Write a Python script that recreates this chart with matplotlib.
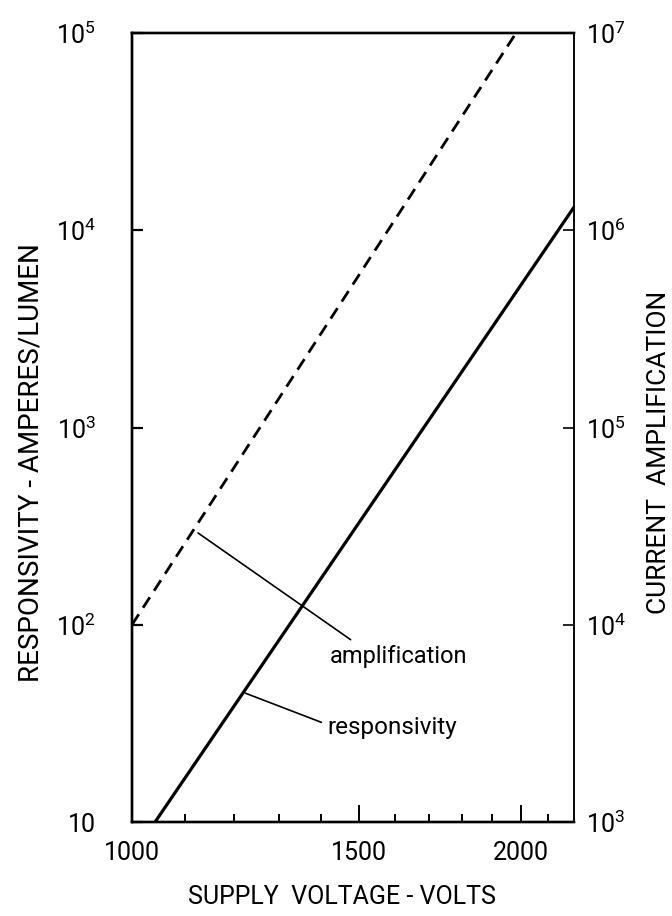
import matplotlib
matplotlib.use("Agg")
import matplotlib.pyplot as plt
from matplotlib.ticker import FixedLocator, NullLocator, NullFormatter, FixedFormatter

plt.rcParams['font.family'] = ['Roboto', 'DejaVu Sans']

# data (log-log straight lines)
voltage_resp = [1042, 2200]
responsivity = [10, 13100]          # amperes / lumen, left axis
voltage_amp = [1000, 1984]
amplification = [1e4, 1e7]         # current amplification, right axis

x_major = [1000, 1500, 2000]
x_minor = [1100, 1200, 1300, 1400, 1600, 1700, 1800, 1900, 2100]
left_ticks = [10, 1e2, 1e3, 1e4, 1e5]
left_labels = ['10', r'$\mathregular{10^{2}}$', r'$\mathregular{10^{3}}$',
               r'$\mathregular{10^{4}}$', r'$\mathregular{10^{5}}$']
right_ticks = [1e3, 1e4, 1e5, 1e6, 1e7]
right_labels = [r'$\mathregular{10^{3}}$', r'$\mathregular{10^{4}}$', r'$\mathregular{10^{5}}$',
                r'$\mathregular{10^{6}}$', r'$\mathregular{10^{7}}$']

fig = plt.figure(figsize=(6.72, 9.16), dpi=100)
ax = fig.add_axes([132/672, 1 - 822/916, (574 - 132)/672, (822 - 33)/916])
ax2 = ax.twinx()

ax.set_xscale('log')
ax.set_yscale('log')
ax2.set_yscale('log')
ax.set_xlim(1000, 2200)
ax.set_ylim(10, 1e5)
ax2.set_ylim(1e3, 1e7)

ax.plot(voltage_resp, responsivity, color='black', lw=2.3, solid_capstyle='butt')
ax2.plot(voltage_amp, amplification, color='black', lw=2.0, dashes=(4.5, 2.8))

# x ticks
ax.xaxis.set_major_locator(FixedLocator(x_major))
ax.xaxis.set_major_formatter(FixedFormatter([str(v) for v in x_major]))
ax.xaxis.set_minor_locator(FixedLocator(x_minor))
ax.xaxis.set_minor_formatter(NullFormatter())
ax.tick_params(axis='x', which='major', direction='in', length=12, width=1.4,
               pad=14, labelsize=18)
ax.tick_params(axis='x', which='minor', direction='in', length=6, width=1.4)

# y ticks
ax.yaxis.set_major_locator(FixedLocator(left_ticks))
ax.yaxis.set_major_formatter(FixedFormatter(left_labels))
ax.yaxis.set_minor_locator(NullLocator())
ax.tick_params(axis='y', direction='in', length=8, width=1.6, pad=26, labelsize=18)

ax2.yaxis.set_major_locator(FixedLocator(right_ticks))
ax2.yaxis.set_major_formatter(FixedFormatter(right_labels))
ax2.yaxis.set_minor_locator(NullLocator())
ax2.tick_params(axis='y', direction='in', length=8, width=1.2, pad=9, labelsize=18)

for s in ['left', 'bottom', 'top']:
    ax.spines[s].set_linewidth(1.7)
    ax2.spines[s].set_linewidth(1.7)
ax.spines['right'].set_linewidth(1.1)
ax2.spines['right'].set_linewidth(1.1)

ax.set_xlabel('SUPPLY  VOLTAGE - VOLTS', fontsize=18)
ax.xaxis.set_label_coords(0.475, -0.080)
ax.set_ylabel('RESPONSIVITY - AMPERES/LUMEN', fontsize=20)
ax.yaxis.set_label_coords(-0.197, 0.455)
ax2.set_ylabel('CURRENT  AMPLIFICATION', fontsize=19)
ax2.yaxis.set_label_coords(1.165, 0.469)

# leader lines and labels
ax.annotate('', xy=(1125, 292), xytext=(1477, 84),
            arrowprops=dict(arrowstyle='-', lw=1.2, color='black', shrinkA=0, shrinkB=0))
ax.text(1422, 69, 'amplification', fontsize=17, ha='left', va='center')
ax.annotate('', xy=(1224, 45), xytext=(1402, 32),
            arrowprops=dict(arrowstyle='-', lw=1.2, color='black', shrinkA=0, shrinkB=0))
ax.text(1417, 30, 'responsivity', fontsize=17.5, ha='left', va='center')

fig.savefig('out.png', dpi=100)
